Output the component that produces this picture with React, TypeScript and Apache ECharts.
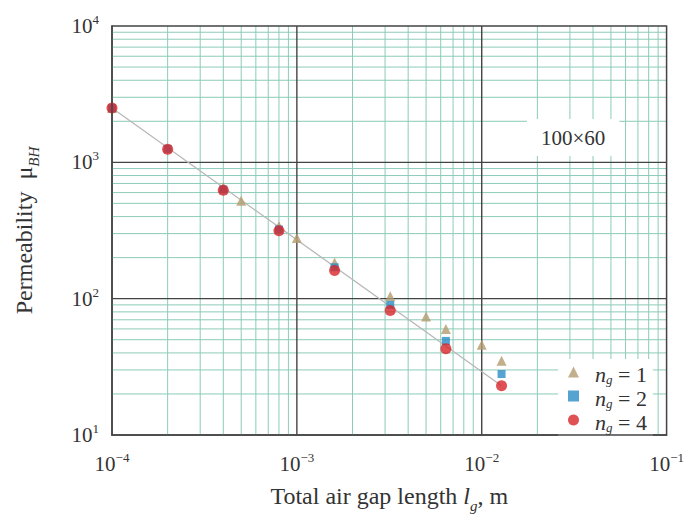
import React, { useEffect, useRef } from "react";
import * as echarts from "echarts";

// ---- data ----
const ng1X = [1e-4, 4e-4, 5e-4, 8e-4, 1e-3, 1.6e-3, 3.2e-3, 5e-3, 6.4e-3, 1e-2, 1.28e-2];
const ng1Y = [2500, 660, 522, 341, 279, 184, 104, 74, 60, 46, 35];
const ng2X = [1e-4, 2e-4, 4e-4, 8e-4, 1.6e-3, 3.2e-3, 6.4e-3, 1.28e-2];
const ng2Y = [2500, 1255, 632, 322, 170, 90, 49, 28];
const ng4X = [1e-4, 2e-4, 4e-4, 8e-4, 1.6e-3, 3.2e-3, 6.4e-3, 1.28e-2];
const ng4Y = [2500, 1245, 625, 315, 161, 82, 43, 23];
const fitX = [1e-4, 1.28e-2];
const fitY = [2500, 23];
const xMin = 1e-4;
const xMax = 1e-1;
const yMin = 10;
const yMax = 10000;
const xDecades = [1e-4, 1e-3, 1e-2];
const yDecades = [10, 100, 1000];
const xMajorInner = [1e-3, 1e-2];
const yMajorInner = [100, 1000];
const minorMultipliers = [2, 3, 4, 5, 6, 7, 8, 9];
const seriesNames = ["n_g = 1", "n_g = 2", "n_g = 4"];
const legendRich: Record<string, string> = {
  "n_g = 1": "{n|n}{g|g}{t| = 1}",
  "n_g = 2": "{n|n}{g|g}{t| = 2}",
  "n_g = 4": "{n|n}{g|g}{t| = 4}",
};
const annotation = "100×60";

const FONT = '"Liberation Serif", "Times New Roman", serif';
const zip = (xs: number[], ys: number[]) => xs.map((x, i) => [x, ys[i]]);

export default function App() {
  const ref = useRef<HTMLDivElement>(null);
  useEffect(() => {
    if (!ref.current) return;
    const chart = echarts.init(ref.current, null, { renderer: "svg" });

    const minorXs: number[] = [];
    xDecades.forEach((d) => minorMultipliers.forEach((m) => minorXs.push(d * m)));
    const minorYs: number[] = [];
    yDecades.forEach((d) => minorMultipliers.forEach((m) => minorYs.push(d * m)));

    // grid-line items: [x, y, dir] ; dir 0 = vertical at x, 1 = horizontal at y
    const gridItems = (xs: number[], ys: number[]) => [
      ...xs.map((v) => [v, yMin, 0]),
      ...ys.map((v) => [xMin, v, 1]),
    ];

    const gridSeries = (name: string, z: number, color: string, width: number, xs: number[], ys: number[]) => ({
      type: "custom",
      name,
      silent: true,
      z,
      data: gridItems(xs, ys),
      renderItem: (_params: any, api: any) => {
        const dir = api.value(2);
        let p1: number[];
        let p2: number[];
        if (dir === 0) {
          const v = api.value(0);
          p1 = api.coord([v, yMin]);
          p2 = api.coord([v, yMax]);
        } else {
          const v = api.value(1);
          p1 = api.coord([xMin, v]);
          p2 = api.coord([xMax, v]);
        }
        return {
          type: "line",
          silent: true,
          shape: { x1: p1[0], y1: p1[1], x2: p2[0], y2: p2[1] },
          style: { stroke: color, lineWidth: width, fill: null },
        };
      },
    });

    const tickLabel = (v: number) => {
      const e = Math.round(Math.log10(v));
      const s = e < 0 ? "−" + Math.abs(e) : String(e);
      return `{b|10}{s|${s}}`;
    };
    const tickRich = {
      b: { fontFamily: FONT, fontSize: 21, lineHeight: 26, color: "#333" },
      s: { fontFamily: FONT, fontSize: 13, lineHeight: 12, verticalAlign: "top", color: "#333" },
    };

    const nameRich = {
      base: { fontFamily: FONT, fontSize: 24, color: "#333", lineHeight: 28, verticalAlign: "top" },
      i: { fontFamily: FONT, fontSize: 24, fontStyle: "italic", color: "#333", lineHeight: 28, verticalAlign: "top" },
      sub: {
        fontFamily: FONT,
        fontSize: 15,
        fontStyle: "italic",
        color: "#333",
        lineHeight: 14,
        verticalAlign: "top",
        padding: [14, 0, 0, 0],
      },
    };

    const option: any = {
      animation: false,
      backgroundColor: "#fff",
      grid: {
        left: 112,
        right: 20,
        top: 26,
        bottom: 81,
        show: true,
        borderColor: "#444",
        borderWidth: 1.5,
        backgroundColor: "transparent",
        z: 10,
      },
      xAxis: {
        type: "log",
        logBase: 10,
        min: xMin,
        max: xMax,
        name: "{base|Total air gap length }{i|l}{sub|g}{base|, m}",
        nameLocation: "middle",
        nameGap: 49,
        nameTextStyle: { fontFamily: FONT, fontSize: 24, color: "#333", rich: nameRich },
        axisLine: { show: true, lineStyle: { color: "#444", width: 1.5 } },
        axisTick: { show: false },
        axisLabel: { formatter: tickLabel, rich: tickRich, margin: 16 },
        splitLine: { show: false },
      },
      yAxis: {
        type: "log",
        logBase: 10,
        min: yMin,
        max: yMax,
        name: "{base|Permeability  μ}{sub|BH}",
        nameLocation: "middle",
        nameGap: 72,
        nameTextStyle: { fontFamily: FONT, fontSize: 24, color: "#333", rich: nameRich },
        axisLine: { show: true, lineStyle: { color: "#444", width: 1.5 } },
        axisTick: { show: false },
        axisLabel: { formatter: tickLabel, rich: tickRich, margin: 13 },
        splitLine: { show: false },
      },
      legend: {
        orient: "vertical",
        left: 558,
        top: 359,
        data: seriesNames,
        backgroundColor: "#fff",
        padding: [4, 6, 5, 10],
        itemWidth: 11,
        itemHeight: 11,
        itemGap: 1,
        formatter: (name: string) => legendRich[name] || name,
        textStyle: {
          color: "#333",
          rich: {
            n: {
              fontFamily: FONT,
              fontSize: 22,
              fontStyle: "italic",
              color: "#333",
              lineHeight: 18,
              verticalAlign: "top",
              padding: [0, 0, 0, 11],
            },
            g: {
              fontFamily: FONT,
              fontSize: 13,
              fontStyle: "italic",
              color: "#333",
              lineHeight: 8,
              verticalAlign: "top",
              padding: [10, 0, 0, 0],
            },
            t: { fontFamily: FONT, fontSize: 22, color: "#333", lineHeight: 18, verticalAlign: "top" },
          },
        },
      },
      graphic: [
        {
          type: "text",
          left: 527,
          top: 119,
          z: 50,
          style: {
            text: annotation,
            font: `21px ${FONT}`,
            fill: "#333",
            backgroundColor: "#fff",
            padding: [8, 14, 8, 14],
          },
        },
      ],
      series: [
        gridSeries("minorGrid", 1, "#8ccbb9", 1, minorXs, minorYs),
        gridSeries("majorGrid", 2, "#444", 1.4, xMajorInner, yMajorInner),
        {
          type: "line",
          name: "fit",
          data: zip(fitX, fitY),
          showSymbol: false,
          symbol: "none",
          lineStyle: { color: "#b8b8b8", width: 1.3 },
          silent: true,
          z: 3,
        },
        {
          type: "scatter",
          name: seriesNames[0],
          data: zip(ng1X, ng1Y),
          symbol: "triangle",
          symbolSize: 10,
          itemStyle: { color: "#b39c70" },
          z: 4,
        },
        {
          type: "scatter",
          name: seriesNames[1],
          data: zip(ng2X, ng2Y),
          symbol: "rect",
          symbolSize: 8,
          itemStyle: { color: "#2b8cc6" },
          z: 5,
        },
        {
          type: "scatter",
          name: seriesNames[2],
          data: zip(ng4X, ng4Y),
          symbol: "circle",
          symbolSize: 11,
          itemStyle: { color: "#d7262b" },
          z: 6,
        },
      ],
    };
    chart.setOption(option);
    return () => chart.dispose();
  }, []);
  return (
    <div
      ref={ref}
      style={{ position: "fixed", left: 0, top: 0, width: 687, height: 518, background: "#fff" }}
    />
  );
}
